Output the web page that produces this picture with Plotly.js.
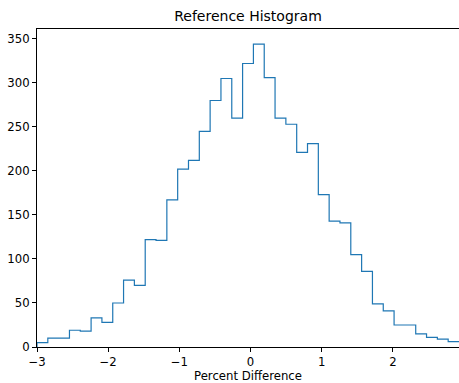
<!DOCTYPE html>
<html>
<head>
<meta charset="utf-8">
<script src="https://cdn.plot.ly/plotly-3.0.1.min.js"></script>
<style>html,body{margin:0;padding:0;background:#fff;overflow:hidden;}#chart{width:459px;height:383px;}</style>
</head>
<body>
<div id="chart"></div>
<script>
// Histogram data (counts per bin)
const binStart = -3.0;
const binWidth = 0.152;
const counts = [5, 10, 10, 19, 18, 33, 28, 50, 76, 70,
                122, 121, 167, 202, 212, 245, 280, 305, 260, 322,
                344, 306, 260, 253, 221, 231, 173, 143, 141, 105,
                86, 49, 41, 25, 25, 15, 11, 9, 6];
const xTickVals = [-3, -2, -1, 0, 1, 2];
const yTickVals = [0, 50, 100, 150, 200, 250, 300, 350];

const edges = [];
for (let i = 0; i <= counts.length; i++) edges.push(binStart + i * binWidth);

// step outline (the figure is cropped at the last bin edge)
const xs = [edges[0]];
const ys = [0];
for (let i = 0; i < counts.length; i++) { xs.push(edges[i]); ys.push(counts[i]); }
xs.push(edges[counts.length]); ys.push(counts[counts.length - 1]);

const font = {family: 'DejaVu Sans', size: 11.7, color: '#000'};

Plotly.newPlot('chart', [{
  type: 'scatter', mode: 'lines', x: xs, y: ys,
  line: {shape: 'hv', color: '#1f77b4', width: 1.2},
  hoverinfo: 'skip', cliponaxis: true
}], {
  width: 459, height: 383,
  margin: {l: 37, r: 0, t: 29, b: 36, pad: 0},
  paper_bgcolor: '#fff', plot_bgcolor: '#fff',
  showlegend: false,
  font: font,
  title: {text: 'Reference Histogram', font: {family: 'DejaVu Sans', size: 14, color: '#000'},
          x: 0.5, xref: 'paper', y: 1 - 16/383, yref: 'container', yanchor: 'middle'},
  xaxis: {range: [edges[0], edges[counts.length]], tickvals: xTickVals,
          showgrid: false, zeroline: false, showline: true, mirror: true, linecolor: '#000', linewidth: 1,
          ticks: 'outside', ticklen: 4, tickwidth: 1, tickcolor: '#000', tickfont: font,
          title: {text: 'Percent Difference', font: font, standoff: 4}},
  yaxis: {range: [0, 361.2], tickvals: yTickVals,
          showgrid: false, zeroline: false, showline: true, mirror: false, linecolor: '#000', linewidth: 1,
          ticks: 'outside', ticklen: 4, tickwidth: 1, tickcolor: '#000', tickfont: font}
}, {staticPlot: true, displayModeBar: false});
</script>
</body>
</html>
